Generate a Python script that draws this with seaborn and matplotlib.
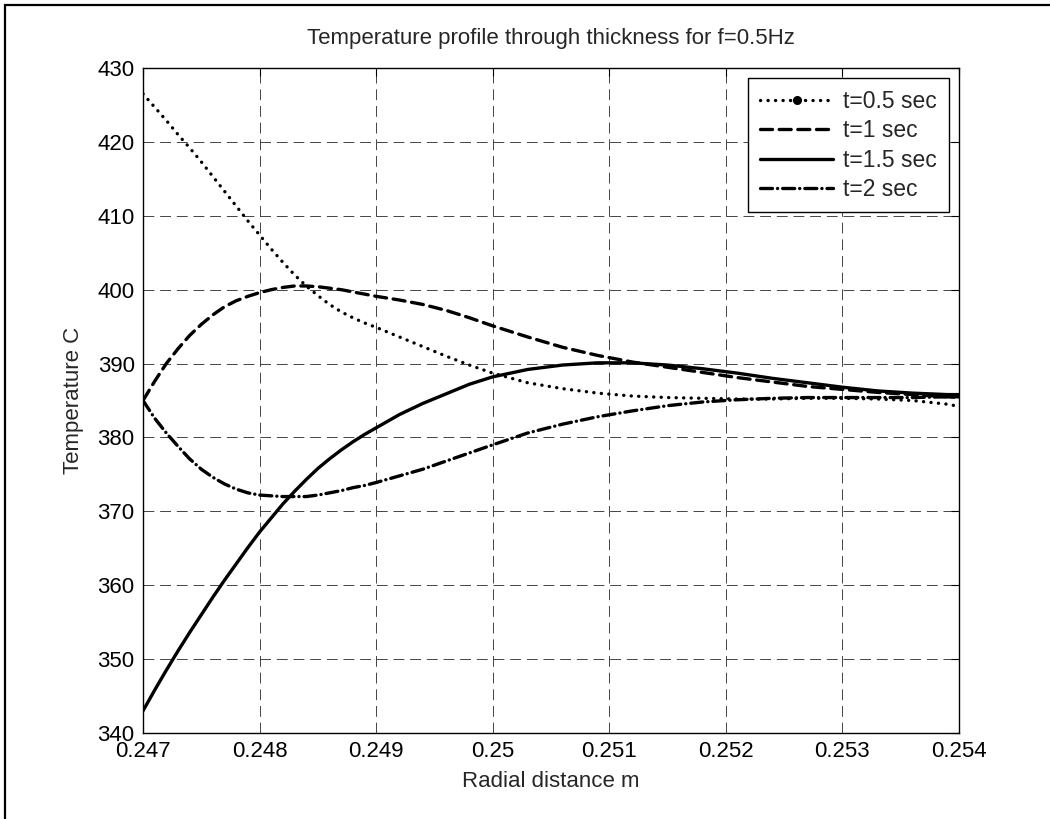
import seaborn as sns
import matplotlib.pyplot as plt
from matplotlib.lines import Line2D
from matplotlib.patches import Rectangle
import pandas as pd

sns.set_style("white")
plt.rcParams['font.family'] = ['Liberation Sans', 'DejaVu Sans']

# radial positions (m) where the curves were read
radius = [0.2470, 0.2471, 0.2472, 0.2473, 0.2474, 0.2475, 0.2476, 0.2477,
          0.2478, 0.2479, 0.2480, 0.2481, 0.2482, 0.2483, 0.2484, 0.2485,
          0.2486, 0.2487, 0.2488, 0.2489, 0.2490, 0.2492, 0.2494, 0.2496,
          0.2498, 0.2500, 0.2503, 0.2506, 0.2509, 0.2512, 0.2515, 0.2518,
          0.2521, 0.2524, 0.2527, 0.2530, 0.2533, 0.2536, 0.2539, 0.2540]

# temperature (C) for each time
temp_05 = [426.5, 424.7, 422.9, 421.0, 419.2, 417.3, 415.3, 413.3,
           411.3, 409.3, 407.4, 405.5, 403.7, 402.0, 400.5, 399.2,
           398.0, 397.0, 396.2, 395.5, 394.9, 393.6, 392.3, 391.0,
           389.8, 388.7, 387.4, 386.6, 386.0, 385.6, 385.4, 385.3,
           385.2, 385.2, 385.3, 385.3, 385.2, 385.0, 384.5, 384.2]
temp_1 = [385.0, 387.6, 390.0, 392.0, 393.8, 395.3, 396.6, 397.7,
          398.5, 399.1, 399.6, 400.0, 400.3, 400.5, 400.5, 400.4,
          400.2, 400.0, 399.7, 399.4, 399.1, 398.6, 398.0, 397.2,
          396.2, 395.1, 393.6, 392.2, 391.1, 390.2, 389.5, 388.8,
          388.1, 387.5, 386.9, 386.5, 386.1, 385.8, 385.5, 385.4]
temp_15 = [343.0, 345.8, 348.5, 351.1, 353.6, 356.0, 358.4, 360.7,
           362.9, 365.1, 367.2, 369.1, 371.0, 372.7, 374.3, 375.8,
           377.1, 378.3, 379.4, 380.4, 381.3, 383.1, 384.6, 385.9,
           387.2, 388.2, 389.2, 389.8, 390.1, 390.1, 389.8, 389.3,
           388.7, 388.0, 387.4, 386.8, 386.3, 386.0, 385.8, 385.8]
temp_2 = [385.0, 382.6, 380.6, 378.8, 377.1, 375.7, 374.6, 373.7,
          373.0, 372.5, 372.2, 372.1, 372.0, 372.0, 372.0, 372.2,
          372.5, 372.8, 373.2, 373.5, 373.9, 374.8, 375.7, 376.8,
          377.9, 379.0, 380.6, 381.8, 382.8, 383.6, 384.3, 384.8,
          385.1, 385.3, 385.4, 385.4, 385.4, 385.4, 385.5, 385.5]

labels = ['t=0.5 sec', 't=1 sec', 't=1.5 sec', 't=2 sec']
series = [temp_05, temp_1, temp_15, temp_2]
styles = [(0, (0.05, 2.2)), (0, (3.6, 2.0)), '-', (0, (3.6, 1.5, 0.05, 1.5))]

x_ticks = [0.247, 0.248, 0.249, 0.25, 0.251, 0.252, 0.253, 0.254]
x_ticklabels = ['0.247', '0.248', '0.249', '0.25', '0.251', '0.252', '0.253', '0.254']
y_ticks = [340, 350, 360, 370, 380, 390, 400, 410, 420, 430]

fs = 16
lw = 2.4

fig = plt.figure(figsize=(10.5, 8.19), dpi=100)
ax = fig.add_axes([143/1050, (819-733)/819, 816/1050, 665/819])

for lab, temp, ls in zip(labels, series, styles):
    df = pd.DataFrame({'r': radius, 'T': temp})
    sns.lineplot(data=df, x='r', y='T', ax=ax, color='k', lw=lw,
                 linestyle=ls, dash_capstyle='round', solid_capstyle='round',
                 label=lab)

ax.set_xlim(0.247, 0.254)
ax.set_ylim(340, 430)
ax.set_xticks(x_ticks)
ax.set_xticklabels(x_ticklabels)
ax.set_yticks(y_ticks)
ax.tick_params(direction='in', length=6, width=0.8, top=True, right=True,
               labelsize=fs, pad=6, colors='k')
ax.grid(True, color='0.15', lw=0.6, linestyle=(0, (13, 7)))
for s in ax.spines.values():
    s.set_color('k')
    s.set_linewidth(1.0)

ax.set_title('Temperature profile through thickness for f=0.5Hz', fontsize=fs, pad=17)
ax.set_xlabel('Radial distance m', fontsize=fs, labelpad=6)
ax.set_ylabel('Temperature C', fontsize=fs, labelpad=10)

# legend: dotted entry carries a dot marker like the original
lines = ax.get_lines()
handles = [Line2D([], [], color='k', lw=lw, linestyle=styles[0],
                  dash_capstyle='round', marker='.', markersize=11)]
handles += lines[1:4]
leg = ax.legend(handles, labels, loc='upper right', fontsize=16.5, frameon=True,
                fancybox=False, edgecolor='k', framealpha=1, handlelength=3.2,
                handletextpad=0.45, labelspacing=0.28, borderpad=0.5,
                borderaxespad=0.45)
leg.get_frame().set_linewidth(1.0)

# outer window frame (only left and top edges show)
fig.patches.append(Rectangle((5/1050, -0.1), 1.2, (819-5)/819 + 0.1,
                             transform=fig.transFigure, fill=False,
                             edgecolor='k', lw=1.6))

fig.savefig('out.png', dpi=100)
